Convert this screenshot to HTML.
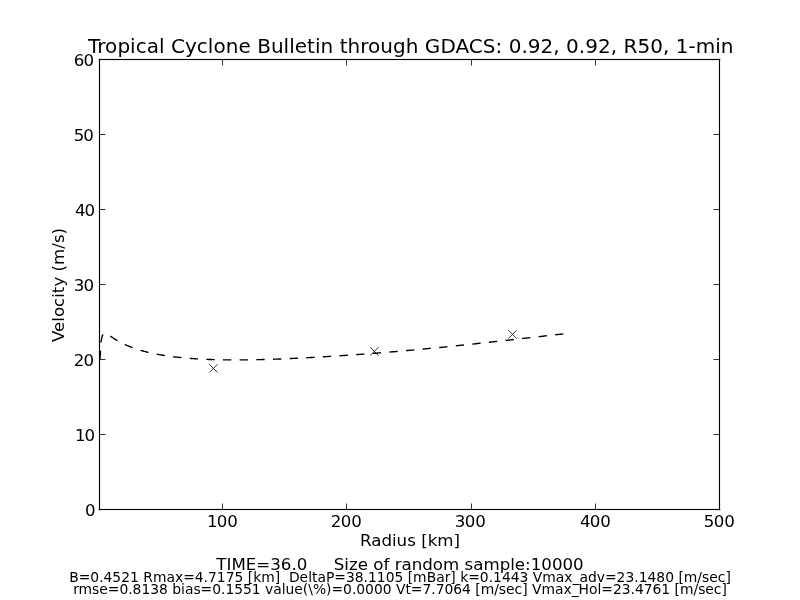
<!DOCTYPE html>
<html>
<head>
<meta charset="utf-8">
<title>Tropical Cyclone Bulletin</title>
<style>
html,body{margin:0;padding:0;background:#fff;}
body{width:800px;height:600px;overflow:hidden;}
svg{display:block;}
text{font-family:"DejaVu Sans","Liberation Sans",sans-serif;fill:#000;white-space:pre;}
.t12{font-size:16.67px;}
.t14{font-size:20px;}
.t10{font-size:13.89px;}
</style>
</head>
<body>
<svg width="800" height="600" viewBox="0 0 800 600">
<rect width="800" height="600" fill="#fff"/>
<!-- data curve -->
<clipPath id="ax"><rect x="99.5" y="59.5" width="620" height="450"/></clipPath>
<polyline clip-path="url(#ax)" fill="none" stroke="#000" stroke-width="1.39" stroke-dasharray="8.333 8.333" stroke-linejoin="round" points="100.00,359.10 101.10,341.43 102.24,335.97 103.41,334.03 104.60,333.51 105.81,333.66 107.02,334.15 108.25,334.82 109.47,335.58 110.71,336.38 111.94,337.19 113.18,338.00 114.42,338.79 115.66,339.56 116.90,340.31 118.14,341.03 119.38,341.73 120.62,342.40 121.87,343.05 123.11,343.67 124.35,344.27 125.59,344.85 126.83,345.41 128.08,345.94 129.32,346.45 130.56,346.95 131.80,347.43 133.05,347.89 134.29,348.33 135.53,348.76 136.77,349.17 138.02,349.57 139.26,349.96 140.50,350.33 141.74,350.69 142.99,351.03 144.23,351.37 145.47,351.69 146.71,352.01 147.96,352.31 149.20,352.60 150.44,352.88 151.68,353.16 152.93,353.42 154.17,353.68 155.41,353.93 156.65,354.17 157.90,354.40 159.14,354.63 160.38,354.85 161.62,355.06 162.87,355.26 164.11,355.46 165.35,355.65 166.59,355.84 167.84,356.02 169.08,356.19 170.32,356.36 171.56,356.52 172.81,356.68 174.05,356.83 175.29,356.98 176.53,357.12 177.78,357.26 179.02,357.39 180.26,357.52 181.50,357.65 182.75,357.76 183.99,357.88 185.23,357.99 186.47,358.10 187.72,358.20 188.96,358.30 190.20,358.40 191.44,358.49 192.69,358.58 193.93,358.66 195.17,358.74 196.41,358.82 197.66,358.90 198.90,358.97 200.14,359.04 201.38,359.10 202.63,359.17 203.87,359.23 205.11,359.28 206.35,359.34 207.60,359.39 208.84,359.44 210.08,359.48 211.32,359.53 212.57,359.57 213.81,359.60 215.05,359.64 216.29,359.67 217.54,359.70 218.78,359.73 220.02,359.76 221.26,359.78 222.51,359.81 223.75,359.83 224.99,359.84 226.23,359.86 227.48,359.87 228.72,359.89 229.96,359.90 231.20,359.90 232.45,359.91 233.69,359.91 234.93,359.92 236.17,359.92 237.42,359.91 238.66,359.91 239.90,359.91 241.14,359.90 242.39,359.89 243.63,359.88 244.87,359.87 246.11,359.86 247.36,359.84 248.60,359.83 249.84,359.81 251.08,359.79 252.33,359.77 253.57,359.75 254.81,359.73 256.05,359.70 257.30,359.67 258.54,359.65 259.78,359.62 261.02,359.59 262.27,359.56 263.51,359.52 264.75,359.49 265.99,359.45 267.24,359.42 268.48,359.38 269.72,359.34 270.96,359.30 272.21,359.26 273.45,359.22 274.69,359.17 275.93,359.13 277.18,359.08 278.42,359.04 279.66,358.99 280.90,358.94 282.15,358.89 283.39,358.84 284.63,358.79 285.87,358.73 287.12,358.68 288.36,358.63 289.60,358.57 290.84,358.51 292.09,358.45 293.33,358.40 294.57,358.34 295.81,358.28 297.06,358.22 298.30,358.16 299.54,358.09 300.78,358.03 302.03,357.97 303.27,357.90 304.51,357.84 305.75,357.77 306.99,357.71 308.24,357.64 309.48,357.58 310.72,357.51 311.96,357.44 313.21,357.37 314.45,357.30 315.69,357.23 316.93,357.16 318.18,357.09 319.42,357.02 320.66,356.94 321.90,356.87 323.15,356.80 324.39,356.72 325.63,356.65 326.87,356.57 328.12,356.50 329.36,356.42 330.60,356.35 331.84,356.27 333.09,356.19 334.33,356.11 335.57,356.03 336.81,355.95 338.06,355.87 339.30,355.79 340.54,355.71 341.78,355.63 343.03,355.55 344.27,355.46 345.51,355.38 346.75,355.30 348.00,355.21 349.24,355.13 350.48,355.04 351.72,354.96 352.97,354.87 354.21,354.78 355.45,354.69 356.69,354.61 357.94,354.52 359.18,354.43 360.42,354.34 361.66,354.25 362.91,354.16 364.15,354.07 365.39,353.97 366.63,353.88 367.88,353.79 369.12,353.69 370.36,353.60 371.60,353.51 372.85,353.41 374.09,353.31 375.33,353.22 376.57,353.12 377.82,353.02 379.06,352.93 380.30,352.83 381.54,352.73 382.79,352.63 384.03,352.53 385.27,352.43 386.51,352.33 387.76,352.22 389.00,352.12 390.24,352.02 391.48,351.92 392.73,351.81 393.97,351.71 395.21,351.60 396.45,351.50 397.70,351.39 398.94,351.28 400.18,351.18 401.42,351.07 402.67,350.96 403.91,350.85 405.15,350.74 406.39,350.63 407.64,350.52 408.88,350.41 410.12,350.30 411.36,350.18 412.61,350.07 413.85,349.96 415.09,349.84 416.33,349.73 417.58,349.61 418.82,349.50 420.06,349.38 421.30,349.27 422.55,349.15 423.79,349.03 425.03,348.91 426.27,348.79 427.52,348.67 428.76,348.56 430.00,348.43 431.24,348.31 432.49,348.19 433.73,348.07 434.97,347.95 436.21,347.83 437.46,347.70 438.70,347.58 439.94,347.46 441.18,347.33 442.43,347.21 443.67,347.08 444.91,346.96 446.15,346.83 447.40,346.70 448.64,346.58 449.88,346.45 451.12,346.32 452.37,346.19 453.61,346.06 454.85,345.93 456.09,345.80 457.34,345.67 458.58,345.54 459.82,345.41 461.06,345.28 462.31,345.15 463.55,345.02 464.79,344.89 466.03,344.76 467.28,344.62 468.52,344.49 469.76,344.36 471.00,344.22 472.25,344.09 473.49,343.96 474.73,343.82 475.97,343.69 477.22,343.55 478.46,343.42 479.70,343.28 480.94,343.14 482.19,343.01 483.43,342.87 484.67,342.74 485.91,342.60 487.16,342.46 488.40,342.33 489.64,342.19 490.88,342.05 492.13,341.91 493.37,341.78 494.61,341.64 495.85,341.50 497.10,341.36 498.34,341.22 499.58,341.08 500.82,340.95 502.07,340.81 503.31,340.67 504.55,340.53 505.79,340.39 507.04,340.25 508.28,340.11 509.52,339.97 510.76,339.83 512.01,339.69 513.25,339.55 514.49,339.41 515.73,339.27 516.97,339.13 518.22,338.99 519.46,338.85 520.70,338.71 521.94,338.57 523.19,338.43 524.43,338.29 525.67,338.15 526.91,338.01 528.16,337.87 529.40,337.73 530.64,337.59 531.88,337.45 533.13,337.31 534.37,337.17 535.61,337.03 536.85,336.89 538.10,336.75 539.34,336.61 540.58,336.47 541.82,336.33 543.07,336.19 544.31,336.05 545.55,335.91 546.79,335.77 548.04,335.63 549.28,335.49 550.52,335.35 551.76,335.21 553.01,335.07 554.25,334.93 555.49,334.79 556.73,334.64 557.98,334.50 559.22,334.36 560.46,334.22 561.70,334.08 562.95,333.93 564.19,333.79 565.43,333.65"/>
<!-- markers -->
<g stroke="#000" stroke-width="0.8" fill="none">
<path d="M209.23 364.23 L217.57 372.57 M209.23 372.57 L217.57 364.23"/>
<path d="M370.23 347.23 L378.57 355.57 M370.23 355.57 L378.57 347.23"/>
<path d="M508.33 330.23 L516.67 338.57 M508.33 338.57 L516.67 330.23"/>
</g>
<!-- axes frame -->
<rect x="99.5" y="59.5" width="620" height="450" fill="none" stroke="#000" stroke-width="3" stroke-opacity="0.07"/>
<g stroke="#000" stroke-width="1" fill="none">
<line x1="98.78" y1="59.5" x2="720.22" y2="59.5"/>
<line x1="98.78" y1="509.5" x2="720.22" y2="509.5"/>
<line x1="99.5" y1="58.78" x2="99.5" y2="510.22"/>
<line x1="719.5" y1="58.78" x2="719.5" y2="510.22"/>
</g>
<g stroke="#000" stroke-width="0.8">
<line x1="222.5" y1="503.5" x2="222.5" y2="509.5" />
<line x1="222.5" y1="59.5" x2="222.5" y2="65.5" />
<line x1="346.5" y1="503.5" x2="346.5" y2="509.5" />
<line x1="346.5" y1="59.5" x2="346.5" y2="65.5" />
<line x1="471.5" y1="503.5" x2="471.5" y2="509.5" />
<line x1="471.5" y1="59.5" x2="471.5" y2="65.5" />
<line x1="595.5" y1="503.5" x2="595.5" y2="509.5" />
<line x1="595.5" y1="59.5" x2="595.5" y2="65.5" />
<line x1="719.5" y1="503.5" x2="719.5" y2="509.5" />
<line x1="719.5" y1="59.5" x2="719.5" y2="65.5" />
<line x1="99.5" y1="59.5" x2="105.5" y2="59.5" />
<line x1="713.5" y1="59.5" x2="719.5" y2="59.5" />
<line x1="99.5" y1="134.5" x2="105.5" y2="134.5" />
<line x1="713.5" y1="134.5" x2="719.5" y2="134.5" />
<line x1="99.5" y1="209.5" x2="105.5" y2="209.5" />
<line x1="713.5" y1="209.5" x2="719.5" y2="209.5" />
<line x1="99.5" y1="284.5" x2="105.5" y2="284.5" />
<line x1="713.5" y1="284.5" x2="719.5" y2="284.5" />
<line x1="99.5" y1="359.5" x2="105.5" y2="359.5" />
<line x1="713.5" y1="359.5" x2="719.5" y2="359.5" />
<line x1="99.5" y1="434.5" x2="105.5" y2="434.5" />
<line x1="713.5" y1="434.5" x2="719.5" y2="434.5" />
<line x1="99.5" y1="509.5" x2="105.5" y2="509.5" />
<line x1="713.5" y1="509.5" x2="719.5" y2="509.5" />
</g>
<!-- title -->
<text class="t14" x="88" y="53" style="letter-spacing:0.03px">Tropical Cyclone Bulletin through GDACS: 0.92, 0.92, R50, 1-min</text>
<!-- y tick labels -->
<g class="t12">
<text x="73.84 83.50" y="66">60</text>
<text x="73.71 83.35" y="141">50</text>
<text x="75.04 84.50" y="216">40</text>
<text x="73.73 83.50" y="291">30</text>
<text x="73.78 83.50" y="366">20</text>
<text x="74.92 84.50" y="441">10</text>
<text x="85.03" y="516">0</text>
</g>
<!-- x tick labels -->
<g class="t12">
<text x="206.90 216.65 227.30" y="527">100</text>
<text x="330.80 340.65 351.30" y="527">200</text>
<text x="454.83 464.65 475.30" y="527">300</text>
<text x="579.96 589.65 600.30" y="527">400</text>
<text x="703.73 713.65 724.30" y="527">500</text>
</g>
<text class="t12" x="410" y="546" text-anchor="middle">Radius [km]</text>
<text class="t12" transform="translate(64,285) rotate(-90)" text-anchor="middle">Velocity (m/s)</text>
<text class="t12" x="400" y="570" text-anchor="middle" xml:space="preserve">TIME=36.0     Size of random sample:10000</text>
<text class="t10" x="400" y="582" text-anchor="middle" xml:space="preserve">B=0.4521 Rmax=4.7175 [km]  DeltaP=38.1105 [mBar] k=0.1443 Vmax_adv=23.1480 [m/sec]</text>
<text class="t10" x="400" y="594" text-anchor="middle" xml:space="preserve" style="letter-spacing:-0.016px">rmse=0.8138 bias=0.1551 value(\%)=0.0000 Vt=7.7064 [m/sec] Vmax_Hol=23.4761 [m/sec]</text>
</svg>
</body>
</html>
